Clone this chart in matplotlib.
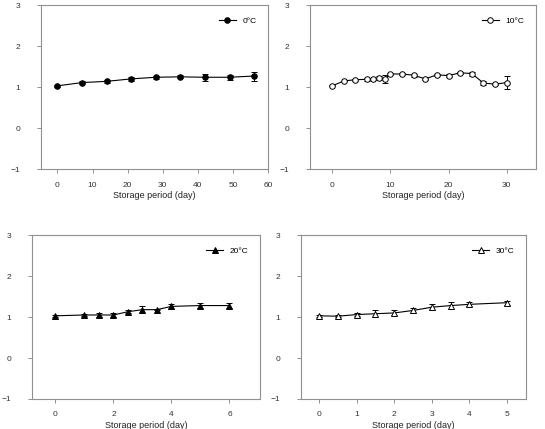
import matplotlib.pyplot as plt

# 0 C storage
day_0 = [0, 7, 14, 21, 28, 35, 42, 49, 56]
val_0 = [1.03, 1.11, 1.14, 1.20, 1.24, 1.25, 1.24, 1.24, 1.27]
err_0 = [0.02, 0.03, 0.03, 0.04, 0.04, 0.04, 0.08, 0.06, 0.11]

# 10 C storage
day_10 = [0, 2, 4, 6, 7, 8, 9, 10, 12, 14, 16, 18, 20, 22, 24, 26, 28, 30]
val_10 = [1.03, 1.15, 1.18, 1.19, 1.19, 1.23, 1.20, 1.32, 1.32, 1.29,
          1.20, 1.30, 1.28, 1.35, 1.33, 1.10, 1.07, 1.11]
err_10 = [0.01, 0.01, 0.02, 0.04, 0.02, 0.05, 0.10, 0.02, 0.02, 0.04,
          0.02, 0.03, 0.04, 0.02, 0.05, 0.04, 0.03, 0.15]

# 20 C storage
day_20 = [0, 1.0, 1.5, 2.0, 2.5, 3.0, 3.5, 4.0, 5.0, 6.0]
val_20 = [1.03, 1.05, 1.05, 1.05, 1.13, 1.18, 1.18, 1.26, 1.28, 1.28]
err_20 = [0.02, 0.02, 0.04, 0.06, 0.03, 0.08, 0.02, 0.06, 0.07, 0.07]

# 30 C storage
day_30 = [0, 0.5, 1.0, 1.5, 2.0, 2.5, 3.0, 3.5, 4.0, 5.0]
val_30 = [1.03, 1.02, 1.06, 1.08, 1.10, 1.16, 1.24, 1.28, 1.31, 1.35]
err_30 = [0.02, 0.03, 0.04, 0.08, 0.06, 0.06, 0.07, 0.08, 0.05, 0.05]

panels = [
    # data, label, marker, fill, ticks, xlim, axes rect
    (day_0, val_0, err_0, '0\u00b0C', 'o', 'black',
     [0, 10, 20, 30, 40, 50, 60], (-4.7, 60), [0.075, 0.606, 0.417, 0.382]),
    (day_10, val_10, err_10, '10\u00b0C', 'o', 'white',
     [0, 10, 20, 30], (-3.8, 35), [0.569, 0.606, 0.414, 0.382]),
    (day_20, val_20, err_20, '20\u00b0C', '^', 'black',
     [0, 2, 4, 6], (-0.8, 7.05), [0.059, 0.070, 0.418, 0.382]),
    (day_30, val_30, err_30, '30\u00b0C', '^', 'white',
     [0, 1, 2, 3, 4, 5], (-0.48, 5.5), [0.552, 0.070, 0.413, 0.382]),
]

plt.rcParams['font.family'] = ['Liberation Sans', 'DejaVu Sans']

fig = plt.figure(figsize=(5.45, 4.29), dpi=100)

for x, y, e, lab, mk, fc, ticks, xl, rect in panels:
    ax = fig.add_axes(rect)
    ax.errorbar(x, y, yerr=e, fmt='none', ecolor='black', elinewidth=0.7,
                capsize=2, capthick=0.7)
    ax.plot(x, y, color='black', linewidth=0.8, marker=mk, markersize=4,
            markerfacecolor=fc, markeredgecolor='black', markeredgewidth=0.7,
            label=lab)
    ax.set_xlim(*xl)
    ax.set_ylim(-1, 3)
    ax.set_xticks(ticks)
    ax.set_yticks([-1, 0, 1, 2, 3])
    ax.tick_params(labelsize=6, length=3, width=0.6, color='#808080',
                   labelcolor='#333333', direction='out', pad=6)
    ax.tick_params(axis='y', pad=12)
    for sp in ax.spines.values():
        sp.set_color('#909090')
        sp.set_linewidth(0.8)
    ax.set_xlabel('Storage period (day)', fontsize=6.5, color='#222222',
                  labelpad=2)
    ax.legend(loc='upper right', frameon=False, fontsize=6, handlelength=2,
              borderaxespad=1.0)

plt.savefig('out.png', dpi=100)
